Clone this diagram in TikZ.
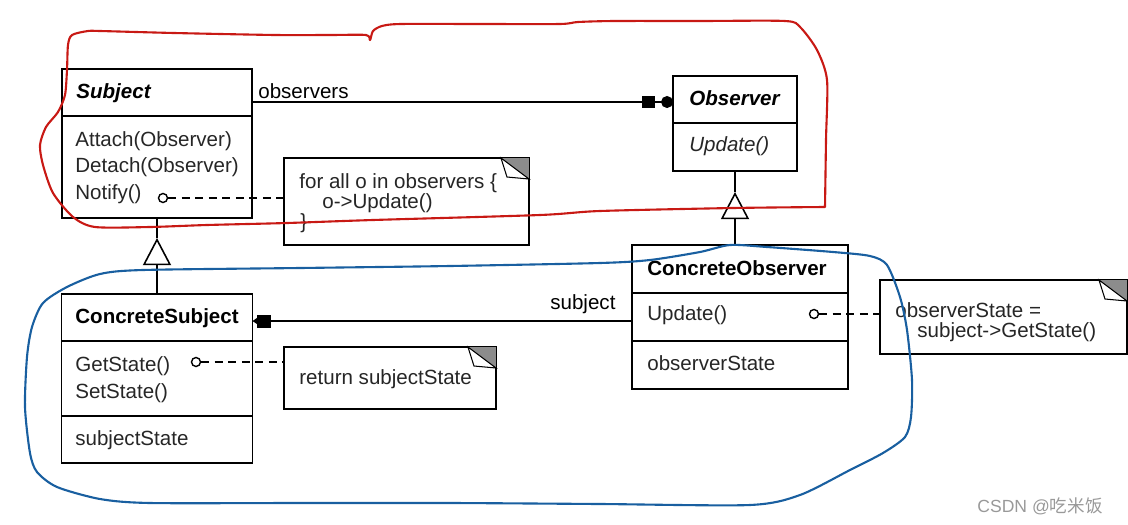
\documentclass[tikz,border=0pt]{standalone}
\usepackage{fontspec}
\setmainfont{Liberation Sans}
\newfontfamily\cjkfont{Noto Sans CJK SC}
\usetikzlibrary{calc,arrows.meta}
\definecolor{penred}{RGB}{200,25,20}
\definecolor{penblue}{RGB}{25,95,160}
\def\dogear(#1){%
	\fill[black!45] ($(#1.north east)+(-28,0)$) -- (#1.north east) -- ($(#1.north east)+(0,21)$) -- cycle;
	\draw[fill=white,line width=0.6pt] ($(#1.north east)+(-28,0)$) -- ($(#1.north east)+(-22,19)$) -- ($(#1.north east)+(0,21)$) -- cycle;}

\begin{document}
\begin{tikzpicture}[x=0.02cm,y=-0.02cm,
	box/.style={draw,line width=1.1pt,inner sep=0pt,outer sep=0pt},
	txt/.style={anchor=base west,inner sep=0pt,text=black!85,font=\fontsize{11.7}{14}\selectfont},
	ttl/.style={anchor=base west,inner sep=0pt,font=\fontsize{11.7}{14}\selectfont\bfseries},
	dot/.style={circle,draw,line width=0.8pt,minimum size=0.18cm,inner sep=0pt,fill=white},
	link/.style={line width=0.9pt},
	dash line/.style={link,dash pattern=on 4.5pt off 3.2pt},
	inherit/.style={link,-{Triangle[open,length=15.5pt,width=16pt,line width=0.9pt]}},
	handred/.style={draw=penred,line width=1.2pt,line join=round,line cap=round},
	handblue/.style={draw=penblue,line width=1.2pt,line join=round,line cap=round}]
	%%%%% START %%%%%
	\useasboundingbox (0,0) rectangle (1128,524);
	
	% Subject
	\node[box,minimum width=3.8cm,minimum height=2.98cm] (subj) at (157,143.5) {};
	\draw[box] ($(subj.north west)+(0,47)$) -- ($(subj.north east)+(0,47)$);
	\node[ttl,font=\fontsize{11.7}{14}\selectfont\bfseries\itshape] (subjname) at (76,98) {Subject};
	\node[txt] (attach) at (75,146) {Attach(Observer)};
	\node[txt] (detach) at (75,172.5) {Detach(Observer)};
	\node[txt] (notify) at (75,199) {Notify()};
	
	% Observer
	\node[box,minimum width=2.48cm,minimum height=1.9cm] (obs) at (735,123.5) {};
	\draw[box] ($(obs.north west)+(0,47)$) -- ($(obs.north east)+(0,47)$);
	\node[ttl,font=\fontsize{11.7}{14}\selectfont\bfseries\itshape] (obsname) at (689,105) {Observer};
	\node[txt,font=\fontsize{11.7}{14}\selectfont\itshape] (obsupdate) at (689,151) {Update()};
	
	% note on Notify
	\node[box,fill=white,minimum width=4.9cm,minimum height=1.74cm] (note1) at (406.5,201.5) {};
	\dogear(note1)
	\node[txt] (note1a) at (299,188) {for all o in observers \{};
	\node[txt] (note1b) at (322,208) {o->Update()};
	\node[txt] (note1c) at (300,228) {\}};
	
	% ConcreteSubject
	\node[box,minimum width=3.82cm,minimum height=3.38cm] (csubj) at (157,378.5) {};
	\draw[box] ($(csubj.north west)+(0,47)$) -- ($(csubj.north east)+(0,47)$);
	\draw[box] ($(csubj.north west)+(0,122)$) -- ($(csubj.north east)+(0,122)$);
	\node[ttl] (csubjname) at (75,323) {ConcreteSubject};
	\node[txt] (getstate) at (75,371) {GetState()};
	\node[txt] (setstate) at (75,398) {SetState()};
	\node[txt] (subjstate) at (75,445) {subjectState};
	
	% note on GetState
	\node[box,fill=white,minimum width=4.24cm,minimum height=1.24cm] (note2) at (390,378) {};
	\dogear(note2)
	\node[txt] (note2a) at (299,384) {return subjectState};
	
	% ConcreteObserver
	\node[box,minimum width=4.32cm,minimum height=2.88cm] (cobs) at (740,317) {};
	\draw[box] ($(cobs.north west)+(0,48)$) -- ($(cobs.north east)+(0,48)$);
	\draw[box] ($(cobs.north west)+(0,96)$) -- ($(cobs.north east)+(0,96)$);
	\node[ttl] (cobsname) at (647,275) {ConcreteObserver};
	\node[txt] (cobsupdate) at (647,320) {Update()};
	\node[txt] (obsstate) at (647,370) {observerState};
	
	% note on Update
	\node[box,fill=white,minimum width=4.94cm,minimum height=1.48cm] (note3) at (1003.5,317) {};
	\dogear(note3)
	\node[txt] (note3a) at (895,317) {observerState =};
	\node[txt] (note3b) at (917,337) {subject->GetState()};
	
	% dashed note links
	\node[dot] (notifydot) at (163,198) {};
	\node[dot] (getdot) at (196,362) {};
	\node[dot] (updatedot) at (814,314) {};
	\draw[dash line] (notifydot) -- (notifydot -| note1.west);
	\draw[dash line] (getdot) -- (getdot -| note2.west);
	\draw[dash line] (updatedot) -- (updatedot -| note3.west);
	
	% associations
	\coordinate (obsfrom) at ($(subj.north east)+(0,33)$);
	\draw[link,-{Square[length=7.4pt,width=6.8pt,sep=3.2pt]Circle[length=6.8pt]}] (obsfrom) -- (obsfrom -| obs.west);
	\node[txt,text=black] (obslabel) at (258,98) {observers};
	\coordinate (subjto) at ($(csubj.north east)+(0,27)$);
	\draw[link,-{Square[length=7.6pt,width=7.4pt]Triangle[length=2.8pt,width=3.6pt]}] (subjto -| cobs.west) -- (subjto);
	\node[txt,text=black] (subjlabel) at (550,309) {subject};
	
	% inheritance
	\coordinate (subjtip) at ($(subj.south)+(0,20)$);
	\draw[inherit] (csubj.north) -- (subjtip);
	\draw[link] (subjtip) -- (subj.south);
	\coordinate (obstip) at ($(obs.south)+(0,21)$);
	\draw[inherit] (obstip |- cobs.north) -- (obstip);
	\draw[link] (obstip) -- (obs.south);
	
	% pen marks
	\draw[handred] plot[smooth,tension=0.45] coordinates {(825,207) (826,140) (827,80) (817,50) (800,27) (785,21) (700,21) (615,21) (578,22) (560,24) (480,24) (401,24) (382,26) (373,31) (370,40) (366,35) (330,35) (275,35) (174,33) (100,31) (88,31) (72,35) (68,45) (67,70) (65,95) (58,112) (46,127) (40,145) (43,165) (53,193) (73,217) (95,227) (150,227) (207,225) (287,223) (373,220) (540,215) (600,211) (733,208) (825,207)};
	\draw[handblue] plot[smooth cycle,tension=0.45] coordinates {(143,270) (300,268) (450,266) (600,263) (650,260) (700,252) (730,245) (767,247) (833,252) (870,256) (887,265) (900,297) (907,330) (912,380) (911,417) (905,437) (883,453) (850,470) (800,495) (750,505) (600,504) (450,503) (300,503) (150,503) (100,499) (57,487) (37,472) (30,453) (25,407) (27,357) (32,327) (43,303) (67,287) (100,274)};
	
	\node[anchor=base west,inner sep=0pt,text=black!40,font=\fontsize{10}{12}\selectfont] (mark) at (977,512) {CSDN @{\cjkfont 吃米饭}};
	%%%%% END %%%%%
\end{tikzpicture}
\end{document}
